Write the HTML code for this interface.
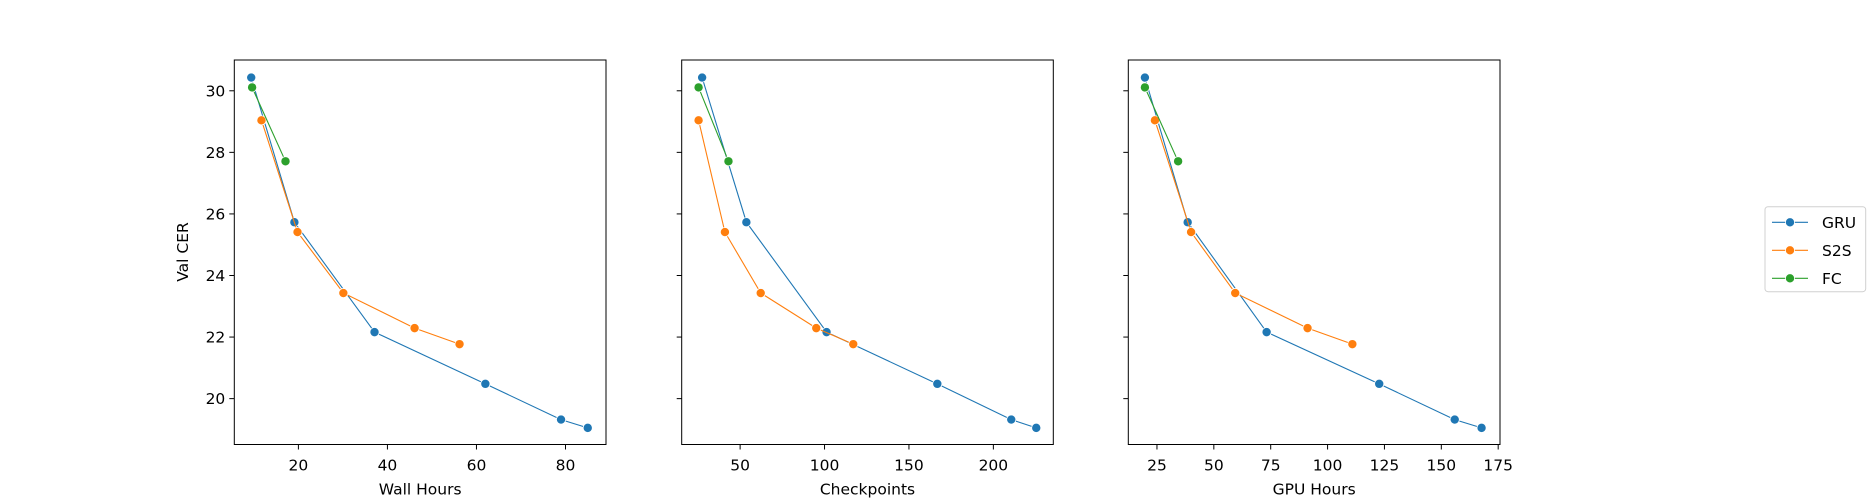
<!DOCTYPE html>
<html><head><meta charset="utf-8"><style>
html,body{margin:0;padding:0;background:#fff;}
svg{display:block;font-family:"DejaVu Sans","Liberation Sans",sans-serif;}
</style></head><body>
<svg id="chart" width="1875" height="500" viewBox="0 0 1875 500"></svg>
<script>
const seriesNames = ["GRU","S2S","FC"];
const seriesColors = ["#1f77b4","#ff7f0e","#2ca02c"];
const yTicks = [20,22,24,26,28,30];
// Wall Hours
const wallGRUx = [9.4,19.1,37.1,62,79,85];
const wallGRUy = [30.43,25.73,22.16,20.48,19.32,19.05];
const wallS2Sx = [11.7,19.8,30.1,46.1,56.2];
const wallS2Sy = [29.04,25.41,23.43,22.29,21.77];
const wallFCx = [9.6,17.1];
const wallFCy = [30.11,27.71];
// Checkpoints
const ckGRUx = [27.5,53.7,101.2,166.8,210.6,225.4];
const ckGRUy = [30.43,25.73,22.16,20.48,19.32,19.05];
const ckS2Sx = [25.4,41,62.2,95.1,117];
const ckS2Sy = [29.04,25.41,23.43,22.29,21.77];
const ckFCx = [25.4,43.1];
const ckFCy = [30.11,27.71];
// GPU Hours
const gpuGRUx = [19.7,38.5,73.2,122.7,155.9,167.7];
const gpuGRUy = [30.43,25.73,22.16,20.48,19.32,19.05];
const gpuS2Sx = [24.1,40,59.4,91.2,110.9];
const gpuS2Sy = [29.04,25.41,23.43,22.29,21.77];
const gpuFCx = [19.7,34.3];
const gpuFCy = [30.11,27.71];
const wallTicks = [20,40,60,80];
const ckTicks = [50,100,150,200];
const gpuTicks = [25,50,75,100,125,150,175];

const NS="http://www.w3.org/2000/svg";
const svg=document.getElementById('chart');
function mk(tag,attrs,parent){const e=document.createElementNS(NS,tag);for(const k in attrs)e.setAttribute(k,attrs[k]);(parent||svg).appendChild(e);return e;}
const plotTop=60,plotBottom=444.5;
const yMin=18.51,yMax=31.0;
function yS(v){return plotBottom-(v-yMin)/(yMax-yMin)*(plotBottom-plotTop);}

const panels=[
 {left:234.3,right:606,xmin:5.6,xmax:89.1,ticks:wallTicks,label:"Wall Hours",name:"wall-hours",data:[[wallGRUx,wallGRUy],[wallS2Sx,wallS2Sy],[wallFCx,wallFCy]],ylab:true},
 {left:681.7,right:1053.3,xmin:15.4,xmax:235.5,ticks:ckTicks,label:"Checkpoints",name:"checkpoints",data:[[ckGRUx,ckGRUy],[ckS2Sx,ckS2Sy],[ckFCx,ckFCy]],ylab:false},
 {left:1128.3,right:1500,xmin:12.4,xmax:175.8,ticks:gpuTicks,label:"GPU Hours",name:"gpu-hours",data:[[gpuGRUx,gpuGRUy],[gpuS2Sx,gpuS2Sy],[gpuFCx,gpuFCy]],ylab:false}
];
panels.forEach(p=>{
  const g=mk('g',{});
  
  
  const xS=v=>p.left+(v-p.xmin)/(p.xmax-p.xmin)*(p.right-p.left);
  p.ticks.forEach(t=>{
    const x=xS(t);
    const tk=mk('line',{x1:x,x2:x,y1:plotBottom,y2:plotBottom+5,stroke:'#000','stroke-width':1},g);
    
    
    const tl=mk('text',{x:x,y:plotBottom+26,'text-anchor':'middle','font-size':15.5,fill:'#000'},g);
    tl.textContent=t;
    
    
  });
  yTicks.forEach(t=>{
    const y=yS(t);
    const tk=mk('line',{x1:p.left-5,x2:p.left,y1:y,y2:y,stroke:'#000','stroke-width':1},g);
    
    
    if(p.ylab){
      const tl=mk('text',{x:p.left-9,y:y+5.5,'text-anchor':'end','font-size':15.5,fill:'#000'},g);
      tl.textContent=t;
      
      
    }
  });
  const xl=mk('text',{x:(p.left+p.right)/2,y:plotBottom+50,'text-anchor':'middle','font-size':15.5,fill:'#000'},g);
  xl.textContent=p.label;
  
  
  if(p.ylab){
    const yl=mk('text',{x:0,y:0,'text-anchor':'middle','font-size':15.5,fill:'#000',transform:'translate(188,252) rotate(-90)'},g);
    yl.textContent='Val CER';
    
    
  }
  p.data.forEach((d,si)=>{
    const pts=d[0].map((x,i)=>xS(x).toFixed(1)+','+yS(d[1][i]).toFixed(1)).join(' ');
    const pl=mk('polyline',{points:pts,fill:'none',stroke:seriesColors[si],'stroke-width':1.1},g);
    
    
    d[0].forEach((x,i)=>{
      const c=mk('circle',{cx:xS(x),cy:yS(d[1][i]),r:4.6,fill:seriesColors[si],stroke:'#fff','stroke-width':0.8},g);
      
      
    });
  });
  const fr=mk('rect',{x:p.left,y:plotTop,width:p.right-p.left,height:plotBottom-plotTop,fill:'none',stroke:'#000','stroke-width':1},g);
  
  
});
// legend
const lg=mk('g',{});


mk('rect',{x:1765,y:206.7,width:100.7,height:85,rx:3,fill:'#fff',stroke:'#d0d0d0','stroke-width':1},lg);
seriesNames.forEach((n,i)=>{
  const y=222.3+i*28;
  const e=mk('g',{},lg);
  
  
  mk('line',{x1:1772,x2:1808,y1:y,y2:y,stroke:seriesColors[i],'stroke-width':1.1},e);
  mk('circle',{cx:1790,cy:y,r:4.6,fill:seriesColors[i],stroke:'#fff','stroke-width':0.8},e);
  const t=mk('text',{x:1822,y:y+5.5,'font-size':15.5,fill:'#000'},e);
  t.textContent=n;
});
</script>
</body></html>
